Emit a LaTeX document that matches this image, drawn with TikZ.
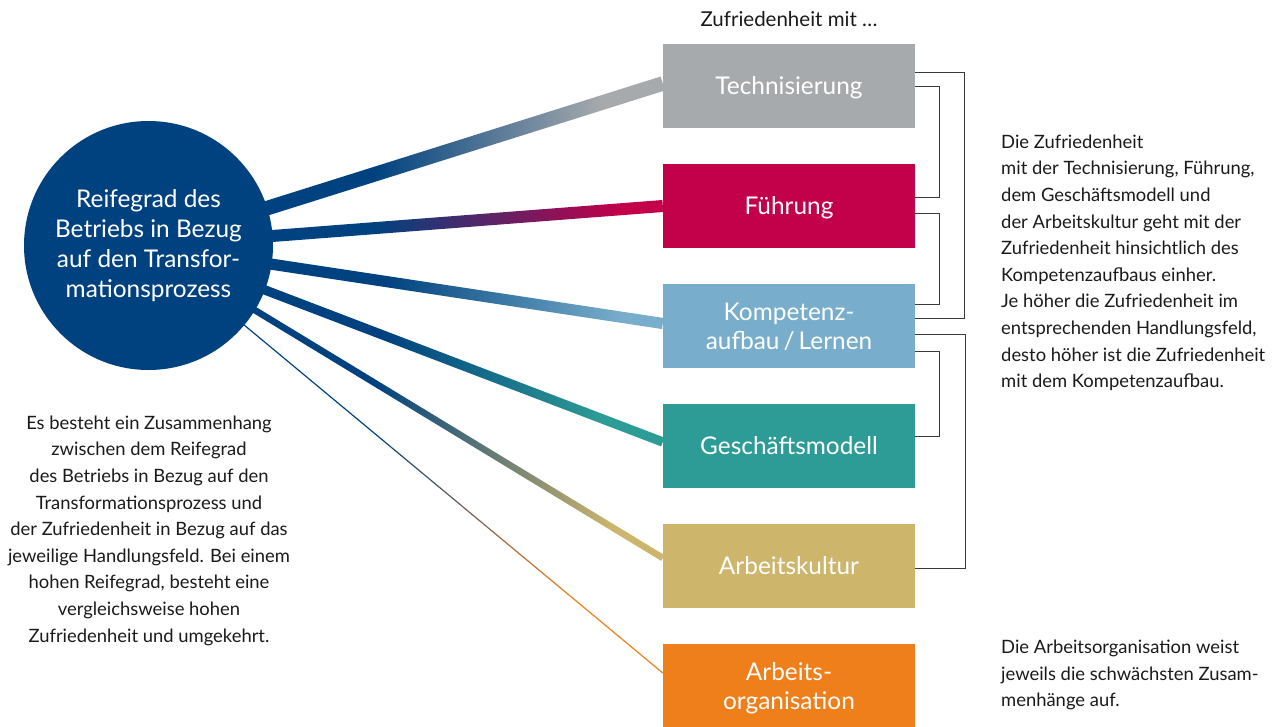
\documentclass[tikz,border=0pt]{standalone}
\usepackage{fontspec}
\setmainfont{Lato}
\usetikzlibrary{calc,backgrounds}
\definecolor{dkblue}{HTML}{00427F}
\definecolor{cTech}{HTML}{A7AAAD}
\definecolor{cFuehr}{HTML}{C3004A}
\definecolor{cKomp}{HTML}{78AECB}
\definecolor{cGesch}{HTML}{2E9C96}
\definecolor{cKult}{HTML}{CDB56C}
\definecolor{cOrg}{HTML}{EF7F1A}
\definecolor{brk}{HTML}{3A3A3A}
\definecolor{txt}{HTML}{1A1A1A}
\pgfdeclarehorizontalshading{shTech}{100bp}{color(0bp)=(dkblue); color(47bp)=(dkblue); color(69bp)=(cTech); color(100bp)=(cTech)}
\pgfdeclarehorizontalshading{shFuehr}{100bp}{color(0bp)=(dkblue); color(47bp)=(dkblue); color(71bp)=(cFuehr); color(100bp)=(cFuehr)}
\pgfdeclarehorizontalshading{shKomp}{100bp}{color(0bp)=(dkblue); color(48bp)=(dkblue); color(71bp)=(cKomp); color(100bp)=(cKomp)}
\pgfdeclarehorizontalshading{shGesch}{100bp}{color(0bp)=(dkblue); color(48bp)=(dkblue); color(69bp)=(cGesch); color(100bp)=(cGesch)}
\pgfdeclarehorizontalshading{shKult}{100bp}{color(0bp)=(dkblue); color(47bp)=(dkblue); color(70bp)=(cKult); color(100bp)=(cKult)}
\pgfdeclarehorizontalshading{shOrg}{100bp}{color(0bp)=(dkblue); color(47bp)=(dkblue); color(66bp)=(cOrg); color(100bp)=(cOrg)}
\newcommand\myconn[4]{% shading, half width, from, to
  \shade[shading=#1] ($(#3)!#2!90:(#4)$) -- ($(#4)!#2!-90:(#3)$) -- ($(#4)!#2!90:(#3)$) -- ($(#3)!#2!-90:(#4)$) -- cycle;}
\begin{document}
\begin{tikzpicture}[x=1pt,y=-1pt,
  box/.style={minimum width=252pt, minimum height=84pt, inner sep=0pt, text=white,
    font=\fontsize{24.4}{29}\selectfont, align=center, text depth=0pt},
  bracket/.style={draw=brk, line width=1.3pt},
  note/.style={inner sep=0pt, text=txt, font=\fontsize{18.4}{26.6}\selectfont}]
\useasboundingbox (0,0) rectangle (1277,726);

\node[circle, fill=dkblue, minimum size=249pt, inner sep=0pt, text=white, align=center,
  font=\fontsize{24.4}{30}\selectfont] (c) at (148.5,245.5)
  {Reifegrad des\\Betriebs in Bezug\\auf den Transfor-\\mationsprozess};

\node[box, fill=cTech]  (tech)  at (789,86)  {Technisierung};
\node[box, fill=cFuehr] (fuehr) at (789,206) {Führung};
\node[box, fill=cKomp]  (komp)  at (789,326) {Kompetenz-\\aufbau\,/\,Lernen};
\node[box, fill=cGesch] (gesch) at (789,446) {Geschäftsmodell};
\node[box, fill=cKult]  (kult)  at (789,566) {Arbeitskultur};
\node[box, fill=cOrg]   (org)   at (789,686) {Arbeits-\\organisation};

\coordinate (e1) at ($(tech.west)+(0,-2.5)$);
\coordinate (e2) at ($(fuehr.west)+(0,0)$);
\coordinate (e3) at ($(komp.west)+(0,-2.5)$);
\coordinate (e4) at ($(gesch.west)+(0,-4)$);
\coordinate (e5) at ($(kult.west)+(0,-8)$);
\coordinate (e6) at ($(org.west)+(0,-13)$);

\begin{scope}[on background layer]
  \myconn{shTech}{7.3pt}{c.center}{e1}
  \myconn{shFuehr}{6pt}{c.center}{e2}
  \myconn{shKomp}{5.6pt}{c.center}{e3}
  \myconn{shGesch}{4.7pt}{c.center}{e4}
  \myconn{shKult}{3.3pt}{c.center}{e5}
  \myconn{shOrg}{0.6pt}{c.center}{e6}
\end{scope}

% brackets
\draw[bracket] ($(tech.north east)+(0,29)$) -| ($(komp.north east)+(49,35)$) -- ($(komp.north east)+(0,35)$);
\draw[bracket] ($(tech.north east)+(0,43)$) -| ($(fuehr.north east)+(24,34)$) -- ($(fuehr.north east)+(0,34)$);
\draw[bracket] ($(fuehr.north east)+(0,50)$) -| ($(komp.north east)+(24,21)$) -- ($(komp.north east)+(0,21)$);
\draw[bracket] ($(komp.north east)+(0,51)$) -| ($(kult.north east)+(50,45)$) -- ($(kult.north east)+(0,45)$);
\draw[bracket] ($(komp.north east)+(0,68)$) -| ($(gesch.north east)+(24,33)$) -- ($(gesch.north east)+(0,33)$);

% texts
\node[note, font=\fontsize{20.5}{24}\selectfont] (head) at (789,19) {Zufriedenheit mit …};

\node[note, anchor=north west, align=left] (rtext) at (1001,134.5)
  {Die Zufriedenheit\\mit der Technisierung, Führung,\\dem Geschäftsmodell und\\der Arbeitskultur geht mit der\\Zufriedenheit hinsichtlich des\\Kompetenzaufbaus einher.\\Je höher die Zufriedenheit im\\entsprechenden Handlungsfeld,\\desto höher ist die Zufriedenheit\\mit dem Kompetenzaufbau.};

\node[note, anchor=north west, align=left] (rtext2) at (1001,640)
  {Die Arbeitsorganisation weist\\jeweils die schwächsten Zusam-\\menhänge auf.};

\node[note, anchor=north, align=center] (ltext) at (149,415.5)
  {Es besteht ein Zusammenhang\\zwischen dem Reifegrad\\des Betriebs in Bezug auf den\\Transformationsprozess und\\der Zufriedenheit in Bezug auf das\\jeweilige Handlungsfeld. Bei einem\\hohen Reifegrad, besteht eine\\vergleichsweise hohen\\Zufriedenheit und umgekehrt.};
\end{tikzpicture}
\end{document}
